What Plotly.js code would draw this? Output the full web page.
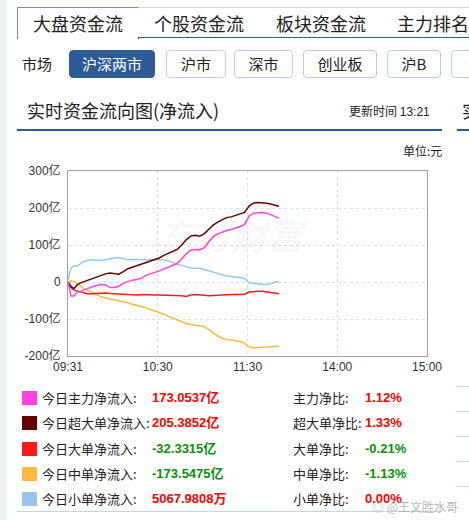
<!DOCTYPE html>
<html>
<head>
<meta charset="utf-8">
<script src="https://cdn.plot.ly/plotly-3.0.1.min.js"></script>
<style>
  html,body{margin:0;padding:0;}
  body{width:469px;height:520px;overflow:hidden;position:relative;background:#fff;
       font-family:"Noto Sans CJK SC","Liberation Sans",sans-serif;color:#222;}
  .abs{position:absolute;white-space:nowrap;}
  .strip{left:0;top:0;width:7px;height:520px;background:#eef1f6;}
  .tab{top:7px;height:30px;border:1px solid #c9d8ea;border-bottom:none;background:#fff;
       font-size:18px;line-height:30px;text-align:left;padding:0 15px;box-sizing:border-box;}
  .tabline{top:36px;height:2px;background:#2f5a96;}
  .btn{top:50px;height:28px;border:1px solid #b9d0e8;border-radius:4px;box-sizing:border-box;
       font-size:15px;line-height:26px;text-align:center;background:#fff;color:#222;}
  .btn.on{background:#2e5b98;border-color:#2e5b98;color:#fff;}
  .sq{left:22px;width:15px;height:14px;}
  .lab{left:42px;font-size:13px;line-height:16px;}
  .val{left:152px;font-size:13px;font-weight:bold;line-height:16px;font-family:"Liberation Sans","Noto Sans CJK SC",sans-serif;}
  .lab2{left:293px;font-size:13px;line-height:16px;}
  .pct{left:365px;font-size:13px;font-weight:bold;line-height:16px;font-family:"Liberation Sans",sans-serif;}
  .red{color:#ff0000;}
  .grn{color:#0a8f0a;}
  .sep{left:456px;width:13px;height:1px;background:#c6d8ea;}
</style>
</head>
<body>
<div class="abs strip"></div>

<!-- tabs -->
<div class="abs tabline" style="left:138px;width:331px;"></div>
<div class="abs tab" style="left:17px;width:122px;height:32px;border-color:#6f8fbb;border-right:1px solid #2f5a96;">大盘资金流</div>
<div class="abs tab" style="left:138px;width:123px;border-left:none;padding-left:16px;">个股资金流</div>
<div class="abs tab" style="left:260px;width:122px;border-left:none;padding-left:16px;">板块资金流</div>
<div class="abs tab" style="left:381px;width:110px;border-left:none;padding-left:16px;">主力排名</div>

<!-- market buttons -->
<div class="abs" style="left:22px;top:53px;font-size:15px;line-height:22px;">市场</div>
<div class="abs btn on" style="left:69px;width:86px;">沪深两市</div>
<div class="abs btn" style="left:166px;width:60px;">沪市</div>
<div class="abs btn" style="left:234px;width:59px;">深市</div>
<div class="abs btn" style="left:303px;width:74px;">创业板</div>
<div class="abs btn" style="left:387px;width:54px;">沪B</div>
<div class="abs btn" style="left:451px;width:60px;">深B</div>

<!-- header -->
<div class="abs" style="left:27px;top:97px;font-size:18px;line-height:26px;">实时资金流向图(净流入)</div>
<div class="abs" style="left:349px;top:102px;font-size:12px;line-height:17px;">更新时间 <span style="font-family:'Liberation Sans',sans-serif;">13:21</span></div>
<div class="abs" style="left:462px;top:97px;font-size:18px;line-height:26px;">实时</div>
<div class="abs" style="left:17px;top:129px;width:425px;height:2px;background:#2f5a96;"></div>
<div class="abs" style="left:457px;top:129px;width:20px;height:2px;background:#2f5a96;"></div>
<div class="abs" style="left:403px;top:143px;font-size:12px;line-height:16px;">单位:元</div>

<div id="chart" class="abs" style="left:0;top:160px;width:469px;height:222px;"></div>

<!-- legend table -->
<div class="abs sq" style="top:391px;background:#ff44dd;"></div>
<div class="abs lab" style="top:390px;">今日主力净流入:</div>
<div class="abs val red" style="top:390px;" id="v0"></div>
<div class="abs lab2" style="top:390px;">主力净比:</div>
<div class="abs pct red" style="top:390px;" id="p0"></div>

<div class="abs sq" style="top:416px;background:#660000;"></div>
<div class="abs lab" style="top:415px;">今日超大单净流入:</div>
<div class="abs val red" style="top:415px;" id="v1"></div>
<div class="abs lab2" style="top:415px;">超大单净比:</div>
<div class="abs pct red" style="top:415px;" id="p1"></div>

<div class="abs sq" style="top:442px;background:#ff1a1a;"></div>
<div class="abs lab" style="top:441px;">今日大单净流入:</div>
<div class="abs val grn" style="top:441px;" id="v2"></div>
<div class="abs lab2" style="top:441px;">大单净比:</div>
<div class="abs pct grn" style="top:441px;" id="p2"></div>

<div class="abs sq" style="top:467px;background:#ffb940;"></div>
<div class="abs lab" style="top:466px;">今日中单净流入:</div>
<div class="abs val grn" style="top:466px;" id="v3"></div>
<div class="abs lab2" style="top:466px;">中单净比:</div>
<div class="abs pct grn" style="top:466px;" id="p3"></div>

<div class="abs sq" style="top:492px;background:#98c5ee;"></div>
<div class="abs lab" style="top:491px;">今日小单净流入:</div>
<div class="abs val red" style="top:491px;" id="v4"></div>
<div class="abs lab2" style="top:491px;">小单净比:</div>
<div class="abs pct red" style="top:491px;" id="p4"></div>

<div class="abs" style="left:17px;top:511px;width:425px;height:1px;background:#c3d5e8;"></div>
<div class="abs sep" style="top:386px;"></div>
<div class="abs sep" style="top:411px;"></div>
<div class="abs sep" style="top:436px;"></div>
<div class="abs sep" style="top:461px;"></div>
<div class="abs sep" style="top:486px;"></div>
<div class="abs" style="left:372px;top:499px;font-size:12px;line-height:16px;color:rgba(160,160,160,0.75);">◎ @王文胜水哥</div>

<script>
// minutes since 09:30 (trading minutes; 120 = 11:30/13:00, 240 = 15:00)
var minutes = [0,2,4,6,8,10,13,16,19,22,25,28,31,34,37,40,43,46,49,52,55,58,61,64,67,70,73,76,79,82,85,88,91,94,97,100,103,106,109,112,115,118,121,124,127,130,133,136,139,141];

// net inflow, 亿元
var mainFlow = [0,-38,-38,-28,-26,-22,-18,-13,-10,-7,-8,-15,-14,-12,-3,2,5,7,10,18,23,26,30,35,40,45,50,62,76,86,88,87,92,108,122,130,135,139,142,145,150,155,178,186,188,188,186,180,176,173];
var superLarge = [0,-12,-18,-8,-3,0,5,10,15,19,22,24,22,21,28,36,40,44,47,52,56,60,65,72,78,84,88,100,114,124,126,124,130,142,154,162,168,174,176,180,184,188,205,213,215,215,213,210,208,205];
var large = [0,-15,-22,-24,-27,-30,-32,-32,-31,-30,-30,-31,-31,-32,-33,-34,-35,-35,-34,-35,-34,-35,-35,-35,-36,-35,-36,-37,-39,-35,-34,-34,-36,-37,-36,-35,-35,-34,-34,-34,-34,-33,-27,-25,-25,-25,-27,-29,-30,-32];
var medium = [0,3,1,-5,-11,-16,-22,-27,-33,-40,-44,-46,-48,-50,-53,-56,-60,-62,-66,-70,-74,-78,-82,-87,-93,-98,-103,-108,-112,-115,-117,-118,-121,-128,-137,-146,-152,-156,-157,-158,-161,-165,-175,-178,-178,-178,-176,-175,-174,-173.5];
var small = [5,38,44,43,48,55,58,60,59,58,60,63,65,66,62,60,61,62,61,60,60,61,61,60,57,52,48,45,42,37,37,37,34,30,26,22,18,16,15,14,12,10,-2,-4,-4,-6,-7,-3,0,0.5];

var seriesNames = ['今日主力净流入','今日超大单净流入','今日大单净流入','今日中单净流入','今日小单净流入'];
var seriesColors = ['#ff44dd','#660000','#ff1a1a','#ffb940','#98c5ee'];
var totals = ['173.0537亿','205.3852亿','-32.3315亿','-173.5475亿','5067.9808万'];
var ratios = ['1.12%','1.33%','-0.21%','-1.13%','0.00%'];

var xTickVals = [0,60,120,180,240];
var xTickText = ['09:31','10:30','11:30','14:00','15:00'];
var yTickVals = [-200,-100,0,100,200,300];
var yTickText = ['-200亿','-100亿','0','100亿','200亿','300亿'];

for (var i=0;i<5;i++){
  document.getElementById('v'+i).textContent = totals[i];
  document.getElementById('p'+i).textContent = ratios[i];
}

var seriesData = [mainFlow, superLarge, large, medium, small];
var order = [4,3,2,1,0];
var traces = order.map(function(k){
  return {x:minutes, y:seriesData[k], type:'scatter', mode:'lines', name:seriesNames[k],
          line:{color:seriesColors[k], width:1.5}, hoverinfo:'skip'};
});

var layout = {
  width:469, height:222,
  margin:{l:68, r:42, t:11, b:26},
  paper_bgcolor:'rgba(0,0,0,0)', plot_bgcolor:'#fff',
  showlegend:false,
  font:{family:'Liberation Sans, Noto Sans CJK SC, sans-serif', size:12, color:'#333'},
  xaxis:{range:[0,240], tickvals:xTickVals, ticktext:xTickText, showgrid:true,
         gridcolor:'#d3e3f0', griddash:'dot', gridwidth:1, showline:true, mirror:true,
         linecolor:'#a0a0a0', linewidth:1, zeroline:false, ticks:'', fixedrange:true},
  yaxis:{range:[-200,300], tickvals:yTickVals, ticktext:yTickText, showgrid:true,
         gridcolor:'#d3e3f0', griddash:'dot', gridwidth:1, showline:true, mirror:true,
         linecolor:'#a0a0a0', linewidth:1, zeroline:false, ticks:'', ticklabelstandoff:4, fixedrange:true},
  annotations:[{xref:'paper', yref:'paper', x:0.46, y:0.66, text:'<b><i>东方财富</i></b>', showarrow:false,
                font:{size:36, color:'rgba(0,0,0,0.05)', family:'Noto Sans CJK SC'}}]
};

Plotly.newPlot('chart', traces, layout, {staticPlot:true, displayModeBar:false});
</script>
</body>
</html>
